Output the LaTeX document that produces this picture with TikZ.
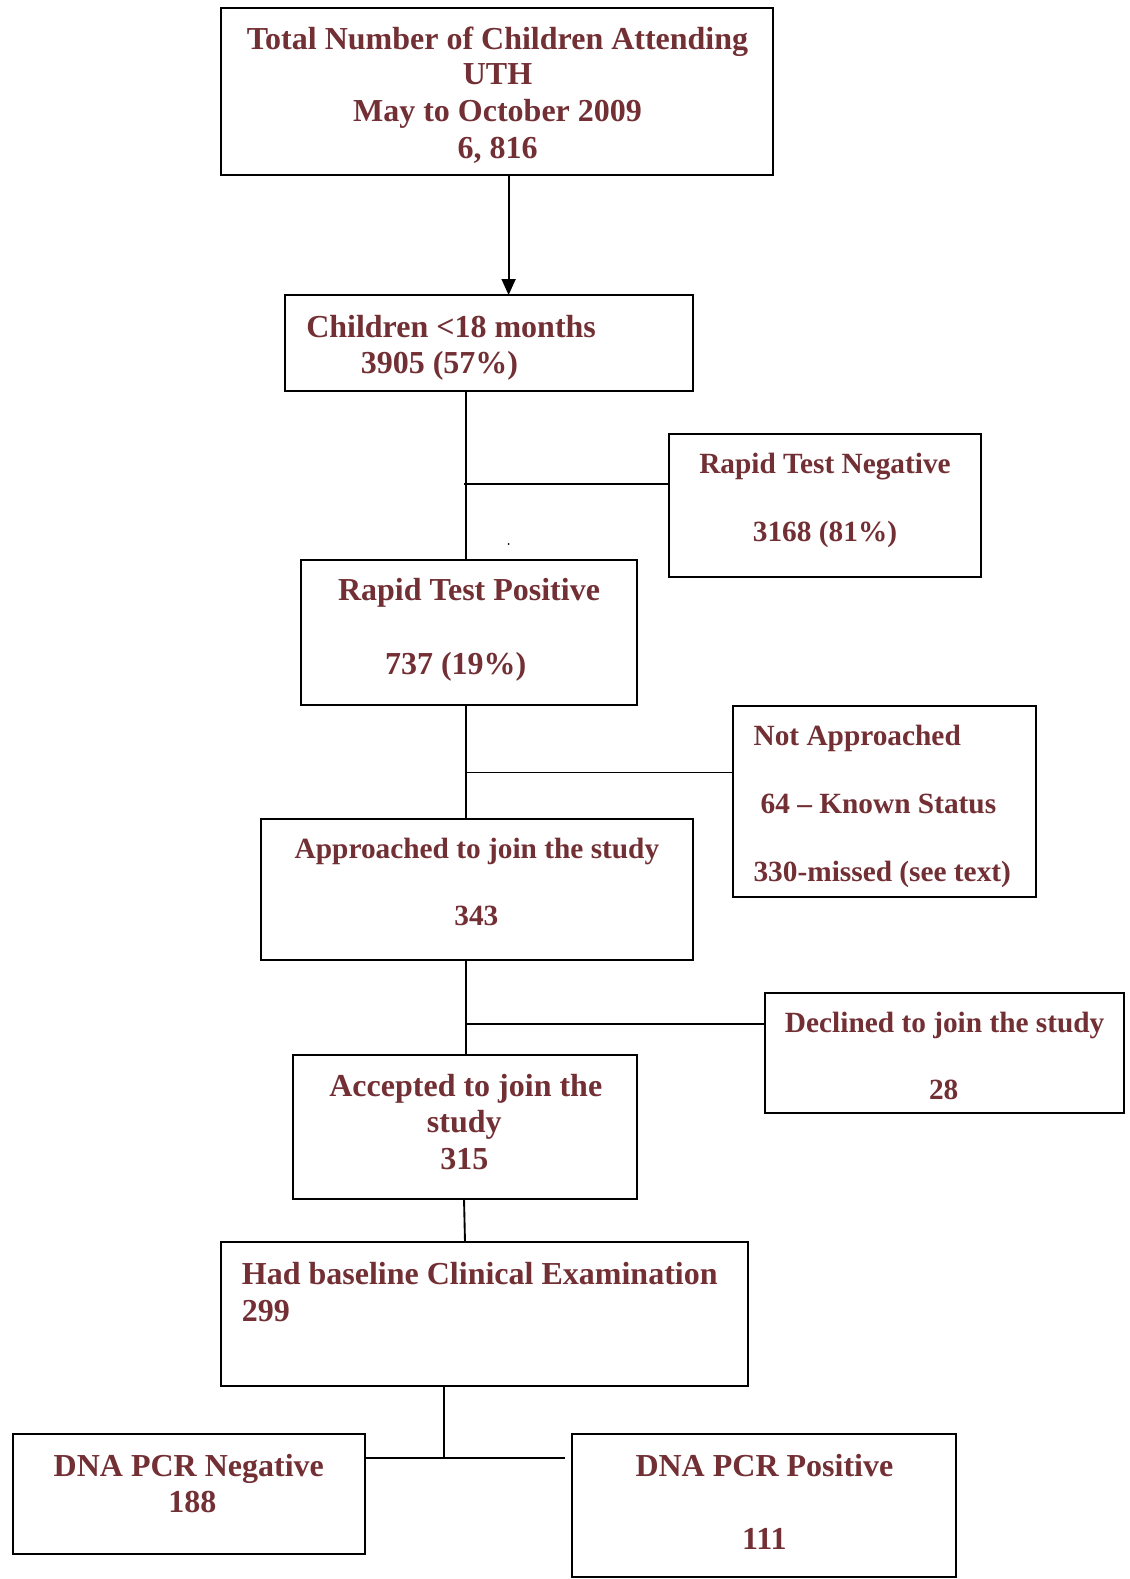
\documentclass[tikz,border=0pt]{standalone}
\usepackage{fontspec}
\setmainfont{Liberation Serif}
\usetikzlibrary{fit,arrows.meta}
\definecolor{maroon}{RGB}{114,47,52}
\begin{document}
\begin{tikzpicture}[x=0.75pt,y=-0.75pt,
  box/.style={draw=black,line width=1.5pt,inner sep=0pt,fill=none},
  conn/.style={draw=black,line width=1.4pt},
  tbig/.style={text=maroon,font=\fontsize{24}{27.6}\selectfont\bfseries,inner sep=0pt,anchor=base,yshift=-1.2pt},
  tsm/.style={text=maroon,font=\fontsize{22}{25.3}\selectfont\bfseries,inner sep=0pt,anchor=base,yshift=-1.2pt}]
\useasboundingbox[fill=white] (0,0) rectangle (1129,1579);
% boxes
\node[box,fit={(220.6,8) (772.5,175.2)}] (b1) {};
\node[box,fit={(285,295) (693,391)}] (b2) {};
\node[box,fit={(669,434) (981,577)}] (b3) {};
\node[box,fit={(301,560) (636.5,705)}] (b4) {};
\node[box,fit={(733,706) (1036,897)}] (b5) {};
\node[box,fit={(261,819) (693,960)}] (b6) {};
\node[box,fit={(765,993) (1124,1113)}] (b7) {};
\node[box,fit={(293,1055) (636.5,1198.5)}] (b8) {};
\node[box,fit={(220.6,1242) (748,1386)}] (b9) {};
\node[box,fit={(13,1434) (364.6,1554)}] (b10) {};
\node[box,fit={(572,1434) (956,1577)}] (b11) {};
% texts
\node[tbig] (t1a) at (497.5,47.5) {Total Number of Children Attending};
\node[tbig] (t1b) at (497.5,82.6) {UTH};
\node[tbig] (t1c) at (497.5,119.8) {May to October 2009};
\node[tbig] (t1d) at (497.5,157) {6, 816};
\node[tbig,anchor=base west] (t2a) at (306,335.4) {Children <18 months};
\node[tbig,anchor=base west] (t2b) at (360.5,371.6) {3905 (57\%)};
\node[tsm] (t3a) at (825,472) {Rapid Test Negative};
\node[tsm] (t3b) at (825,540) {3168 (81\%)};
\node[tbig] (t4a) at (469,599.3) {Rapid Test Positive};
\node[tbig] (t4b) at (455.7,672.8) {737 (19\%)};
\node[tsm,anchor=base west] (t5a) at (753.3,744) {Not Approached};
\node[tsm,anchor=base west] (t5b) at (760.4,811.8) {64 – Known Status};
\node[tsm,anchor=base west] (t5c) at (753.3,880) {330-missed (see text)};
\node[tsm] (t6a) at (477,857) {Approached to join the study};
\node[tsm] (t6b) at (476.4,923.5) {343};
\node[tsm] (t7a) at (944.7,1031) {Declined to join the study};
\node[tsm] (t7b) at (943.7,1097.8) {28};
\node[tbig] (t8a) at (465.8,1094.8) {Accepted to join the};
\node[tbig] (t8b) at (464.3,1131) {study};
\node[tbig] (t8c) at (464.3,1168.3) {315};
\node[tbig,anchor=base west] (t9a) at (241.7,1283) {Had baseline Clinical Examination};
\node[tbig,anchor=base west] (t9b) at (241.7,1319.4) {299};
\node[tbig] (t10a) at (188.8,1474.5) {DNA PCR Negative};
\node[tbig] (t10b) at (192.4,1510.7) {188};
\node[tbig] (t11a) at (764.4,1474.5) {DNA PCR Positive};
\node[tbig] (t11b) at (764.4,1548) {111};
% junction coordinates
\coordinate (a1) at (508.6,175.2);
\coordinate (a2) at (508.6,295);
\coordinate (v1) at (466.3,391);
\coordinate (v2) at (466.3,560);
\coordinate (j1) at (464,484.4);
\coordinate (v3) at (466.3,705);
\coordinate (v4) at (466.3,819);
\coordinate (j2) at (466.3,772.5);
\coordinate (v5) at (466,960);
\coordinate (v6) at (466,1055);
\coordinate (j3) at (466,1024);
\coordinate (v7) at (464,1198.5);
\coordinate (v8) at (465,1242);
\coordinate (v9) at (444,1386);
\coordinate (j4) at (444,1458);
\coordinate (e11) at (565,1458);
% connectors
\draw[conn,-{Triangle[length=12pt,width=10.5pt]}] (a1) -- (a2);
\draw[conn] (v1) -- (v2);
\draw[conn] (j1) -- (j1 -| b3.west);
\draw[conn] (v3) -- (v4);
\draw[conn] (j2) -- (j2 -| b5.west);
\draw[conn] (v5) -- (v6);
\draw[conn] (j3) -- (j3 -| b7.west);
\draw[conn] (v7) -- (v8);
\draw[conn] (v9) -- (j4);
\draw[conn] (j4 -| b10.east) -- (e11);
\fill (508.6,544) circle (1);
\end{tikzpicture}
\end{document}
